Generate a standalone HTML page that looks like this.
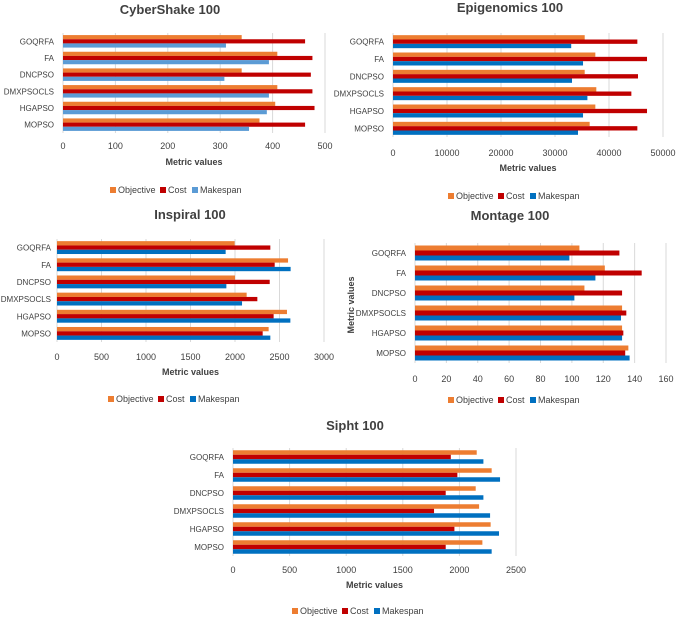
<!DOCTYPE html>
<html><head><meta charset="utf-8">
<style>
body{margin:0;background:#fff;}
svg{display:block;font-family:"Liberation Sans",sans-serif;}
</style></head>
<body>
<svg id="c" width="676" height="619" viewBox="0 0 676 619" xmlns="http://www.w3.org/2000/svg"></svg>
<script>
const categories = ["GOQRFA","FA","DNCPSO","DMXPSOCLS","HGAPSO","MOPSO"];
const seriesNames = ["Objective","Cost","Makespan"];

const cyberObjective = [341,409,341,409,405,375];
const cyberCost = [462,476,473,476,480,462];
const cyberMakespan = [311,393,308,393,389,355];
const cyberTicks = [0,100,200,300,400,500];

const epiObjective = [35500,37470,35500,37650,37470,36420];
const epiCost = [45250,47040,45370,44140,47040,45250];
const epiMakespan = [33000,35190,33150,36000,35190,34260];
const epiTicks = [0,10000,20000,30000,40000,50000];

const inspObjective = [1996,2596,2000,2131,2584,2378];
const inspCost = [2397,2446,2390,2251,2434,2311];
const inspMakespan = [1895,2625,1903,2079,2622,2397];
const inspTicks = [0,500,1000,1500,2000,2500,3000];

const montObjective = [104.8,121,108,132,132,136];
const montCost = [130.3,144.5,132,134.7,132.8,134];
const montMakespan = [98.4,115,101.6,131.3,132,136.8];
const montTicks = [0,20,40,60,80,100,120,140,160];

const siphtObjective = [2153,2285,2144,2174,2276,2203];
const siphtCost = [1924,1982,1879,1776,1956,1879];
const siphtMakespan = [2212,2359,2212,2271,2350,2285];
const siphtTicks = [0,500,1000,1500,2000,2500];

const svg = document.getElementById('c');
const NS = "http://www.w3.org/2000/svg";
function mk(tag, attrs, parent){
  const e = document.createElementNS(NS, tag);
  for (const k in attrs) e.setAttribute(k, attrs[k]);
  (parent||svg).appendChild(e);
  return e;
}
function txt(str, attrs, parent){ const t = mk('text', attrs, parent); t.textContent = str; return t; }

function drawChart(cfg){
  const g = mk('g', {});
  
  
  const maxV = cfg.ticks[cfg.ticks.length-1];
  const xScale = v => cfg.x0 + (v / maxV) * (cfg.x1 - cfg.x0);
  const band = (cfg.bottom - cfg.top) / categories.length;
  const barH = band * 0.25;
  cfg.ticks.forEach(t => {
    const x = xScale(t);
    const gl = mk('line', {x1:x, x2:x, y1:cfg.top, y2:cfg.bottom, stroke:'#d9d9d9', 'stroke-width':1}, g);
    
    
    const tl = txt(String(t), {x:x, y:cfg.tickY, 'font-size':9, fill:'#404040', 'text-anchor':'middle'}, g);
    
    
  });
  const series = [cfg.obj, cfg.cost, cfg.mk];
  const colors = ['#ED7D31', '#C00000', cfg.blue];
  categories.forEach((c, i) => {
    const bandTop = cfg.top + i * band;
    const gTop = bandTop + (band - barH * 3) / 2;
    series.forEach((arr, s) => {
      const y = gTop + s * barH;
      const r = mk('rect', {x:cfg.x0, y:y, width:xScale(arr[i]) - cfg.x0, height:barH, fill:colors[s]}, g);
      
      
    });
    const cl = txt(c, {x:cfg.labelX, y:bandTop + band/2 + 3, 'font-size':8, fill:'#404040', 'text-anchor':'end'}, g);
    
    
  });
  const tt = txt(cfg.title, {x:cfg.titleX, y:cfg.titleY, 'font-size':13, 'font-weight':'bold', fill:'#404040', 'text-anchor':'middle'}, g);
  
  
  if (cfg.axisTitleY) {
    const at = txt('Metric values', {x:(cfg.x0+cfg.x1)/2, y:cfg.axisTitleY, 'font-size':9, 'font-weight':'bold', fill:'#404040', 'text-anchor':'middle'}, g);
    
    
  }
  if (cfg.yTitleX) {
    const yt = txt('Metric values', {x:0, y:0, 'font-size':9, 'font-weight':'bold', fill:'#404040', 'text-anchor':'middle', transform:'translate('+cfg.yTitleX+','+cfg.yTitleCY+') rotate(-90)'}, g);
    
    
  }
  const widths = [50, 32, 46];
  let lx = cfg.legendX;
  seriesNames.forEach((n, s) => {
    const lg = mk('g', {}, g);
    
    
    mk('rect', {x:lx, y:cfg.legendY - 6, width:6, height:6, fill:colors[s]}, lg);
    txt(n, {x:lx + 8, y:cfg.legendY, 'font-size':9, fill:'#404040'}, lg);
    lx += widths[s];
  });
}

drawChart({id:'cybershake', title:'CyberShake 100', titleX:170, titleY:14, x0:63, x1:325, top:33, bottom:133, tickY:149, axisTitleY:165, legendX:110, legendY:193, labelX:54, ticks:cyberTicks, obj:cyberObjective, cost:cyberCost, mk:cyberMakespan, blue:'#5B9BD5'});
drawChart({id:'epigenomics', title:'Epigenomics 100', titleX:510, titleY:12, x0:393, x1:663, top:33, bottom:137, tickY:156, axisTitleY:171, legendX:448, legendY:199, labelX:384, ticks:epiTicks, obj:epiObjective, cost:epiCost, mk:epiMakespan, blue:'#0070C0'});
drawChart({id:'inspiral', title:'Inspiral 100', titleX:190, titleY:219, x0:57, x1:324, top:239, bottom:342, tickY:360, axisTitleY:375, legendX:108, legendY:402, labelX:51, ticks:inspTicks, obj:inspObjective, cost:inspCost, mk:inspMakespan, blue:'#0070C0'});
drawChart({id:'montage', title:'Montage 100', titleX:510, titleY:220, x0:415, x1:666, top:243, bottom:363, tickY:382, legendX:448, legendY:403, labelX:406, yTitleX:354, yTitleCY:305, ticks:montTicks, obj:montObjective, cost:montCost, mk:montMakespan, blue:'#0070C0'});
drawChart({id:'sipht', title:'Sipht 100', titleX:355, titleY:430, x0:233, x1:516, top:448, bottom:556, tickY:573, axisTitleY:588, legendX:292, legendY:614, labelX:224, ticks:siphtTicks, obj:siphtObjective, cost:siphtCost, mk:siphtMakespan, blue:'#0070C0'});
</script>
</body></html>
